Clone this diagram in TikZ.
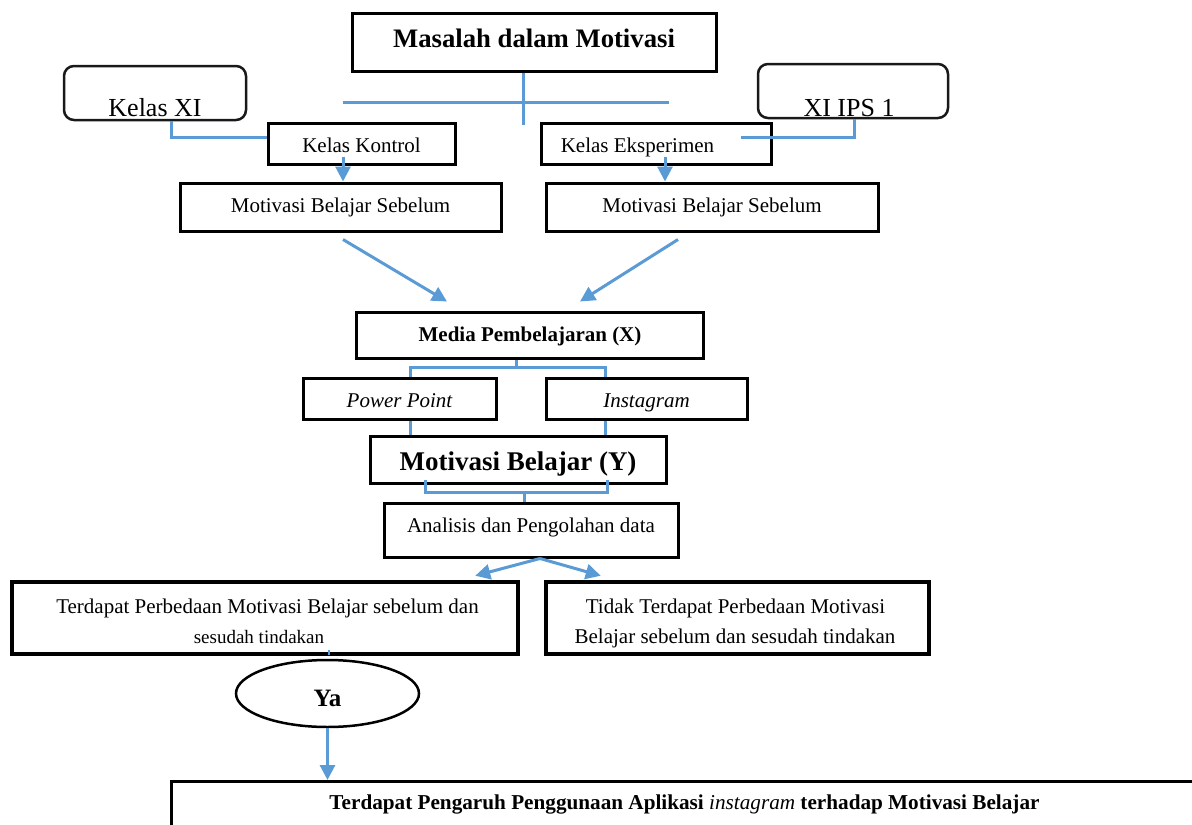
\documentclass[tikz,border=0pt]{standalone}
\usepackage{fontspec}
\setmainfont{Liberation Serif}
\usetikzlibrary{arrows.meta,shapes.geometric}
\definecolor{lblue}{HTML}{5B9BD5}
\newcommand\szn{\fontsize{21pt}{31pt}\selectfont}
\newcommand\szf{\fontsize{21.2pt}{31pt}\selectfont}
\newcommand\szs{\fontsize{19pt}{31pt}\selectfont}
\newcommand\szb{\fontsize{26.7pt}{30pt}\selectfont}
\newcommand\szk{\fontsize{26pt}{30pt}\selectfont}
\newcommand\szy{\fontsize{27pt}{30pt}\selectfont}
\newcommand\szya{\fontsize{25pt}{30pt}\selectfont}
\begin{document}
\begin{tikzpicture}[x=1pt,y=-1pt,
  box/.style={draw,line width=3pt,inner sep=0pt,align=center},
  bl/.style={text height=#1,text depth=0pt},
  rbox/.style={draw=black!90,line width=2.5pt,rounded corners=10pt,inner sep=0pt},
  resbox/.style={draw,line width=4.5pt,inner sep=0pt},
  conn/.style={draw=lblue,line width=3pt},
  arr/.style={conn,-{Triangle[length=15pt,width=15pt]}},
  txt/.style={inner sep=0pt,anchor=base}]
\path[use as bounding box] (0,0) rectangle (1192,825);

% boxes
\node[box,bl=10pt,minimum width=364pt,minimum height=58pt,font=\szb\bfseries] (mas) at (534,42) {Masalah dalam Motivasi};
\node[rbox,minimum width=182pt,minimum height=54pt] (kxi) at (155,93) {};
\node[txt,font=\szk] (kxit) at (155,116) {Kelas XI};
\node[rbox,minimum width=190pt,minimum height=54pt] (ips) at (853,91) {};
\node[txt,font=\szk] (ipst) at (849,116) {XI IPS 1};
\node[box,bl=17pt,minimum width=187pt,minimum height=41pt,font=\szn] (kon) at (361.5,143.5) {Kelas Kontrol};
\node[box,bl=17pt,minimum width=230pt,minimum height=41pt,font=\szn] (eks) at (656,143.5) {Kelas Eksperimen\hspace*{37pt}};
\node[box,bl=10pt,minimum width=321pt,minimum height=48pt,font=\szn] (mot1) at (340.5,207) {Motivasi Belajar Sebelum};
\node[box,bl=10pt,minimum width=332pt,minimum height=48pt,font=\szn] (mot2) at (712,207) {Motivasi Belajar Sebelum};
\node[box,bl=12pt,minimum width=347pt,minimum height=46pt,font=\szn\bfseries] (med) at (530,335) {Media Pembelajaran (X)};
\node[box,bl=17pt,minimum width=193pt,minimum height=41pt,font=\szn\itshape] (pp) at (399.5,398.5) {Power Point};
\node[box,bl=17pt,minimum width=201pt,minimum height=41pt,font=\szn\itshape] (ig) at (646.5,398.5) {Instagram};
\node[box,bl=21pt,minimum width=296pt,minimum height=47pt,font=\szy\bfseries] (mty) at (518,459.5) {Motivasi Belajar (Y)};
\node[box,bl=4pt,minimum width=294pt,minimum height=54pt,font=\szn] (ana) at (531,530) {Analisis dan Pengolahan data};
\node[resbox,minimum width=506pt,minimum height=72pt] (r1) at (265,618) {};
\node[txt,font=\szn] (r1a) at (267.5,613) {Terdapat Perbedaan Motivasi Belajar sebelum dan};
\node[txt,font=\szs] (r1b) at (259,643) {sesudah tindakan};
\node[resbox,minimum width=383pt,minimum height=72pt] (r2) at (737.5,618) {};
\node[txt,font=\szn] (r2a) at (735.5,613) {Tidak Terdapat Perbedaan Motivasi};
\node[txt,font=\szn] (r2b) at (735,643) {Belajar sebelum dan sesudah tindakan};
\node[draw,ellipse,line width=2.5pt,minimum width=183pt,minimum height=67pt,inner sep=0pt,text height=25pt,text depth=0pt,font=\szya\bfseries] (ya) at (327.5,693.5) {Ya};
\node[box,minimum width=1100pt,minimum height=100pt,anchor=north west] (fin) at (170,780) {};
\node[txt,font=\szf\bfseries] (fint) at (684.5,809) {Terdapat Pengaruh Penggunaan Aplikasi {\mdseries\itshape instagram} terhadap Motivasi Belajar};

% connectors
\coordinate (h1) at (343,102);
\coordinate (h2) at (669,102);
\draw[conn] (h1) -- (h2);
\draw[conn] ([xshift=-11pt]mas.south) -- ++(0,52);
\draw[conn] ([xshift=16pt]kxi.south) |- ([yshift=6.5pt]kon.west);
\coordinate (e1) at (741,137);
\draw[conn] ([xshift=1pt]ips.south) |- (e1);
\coordinate (ka) at ([xshift=-18.5pt,yshift=9pt]kon.south);
\draw[arr] (ka) -- (ka |- mot1.north);
\coordinate (ea) at ([xshift=9pt,yshift=9pt]eks.south);
\draw[arr] (ea) -- (ea |- mot2.north);
\draw[arr] ([xshift=2.5pt,yshift=-7pt]mot1.south) -- ([xshift=-83pt,yshift=9pt]med.north);
\draw[arr] ([xshift=-34pt,yshift=-7pt]mot2.south) -- ([xshift=50pt,yshift=9pt]med.north);
\coordinate (b1) at (516,367);
\draw[conn] ([xshift=-14pt]med.south) -- (b1);
\draw[conn] ([xshift=10.5pt]pp.north) |- (b1) -| ([xshift=-41.5pt]ig.north);
\coordinate (p1) at ([xshift=10.5pt]pp.south);
\draw[conn] (p1) -- (p1 |- mty.north);
\coordinate (p2) at ([xshift=-41.5pt]ig.south);
\draw[conn] (p2) -- (p2 |- mty.north);
\coordinate (b2) at (524,492);
\draw[conn] ([xshift=-93pt,yshift=5pt]mty.south) |- (b2) -| ([xshift=89pt,yshift=5pt]mty.south);
\draw[conn] (b2) -- (b2 |- ana.north);
\coordinate (a0) at ([xshift=9pt]ana.south);
\draw[arr] (a0) -- ([xshift=-45pt,yshift=4pt]r1.north east);
\draw[arr] (a0) -- ([xshift=57pt,yshift=4pt]r2.north west);
\coordinate (tk) at ([xshift=64pt,yshift=6pt]r1.south);
\draw[draw=lblue,line width=1.5pt] (tk) -- ++(0,5);
\draw[arr] (ya.south) -- (ya.south |- fin.north);
\end{tikzpicture}
\end{document}
